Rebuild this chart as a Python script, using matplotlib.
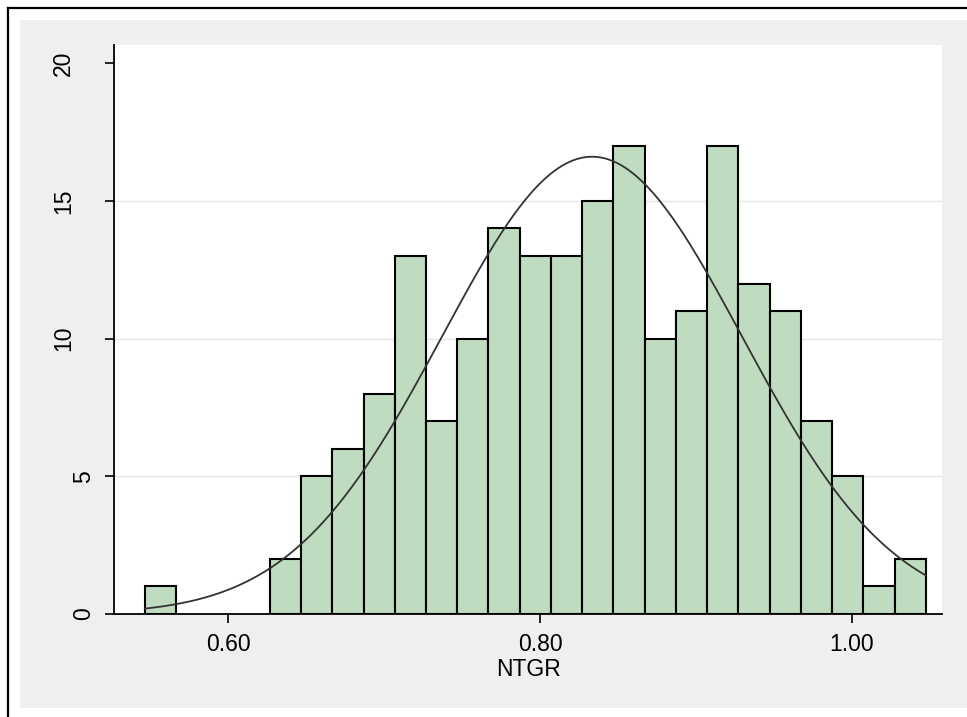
import numpy as np
import matplotlib
matplotlib.use("Agg")
import matplotlib.pyplot as plt
from matplotlib.patches import Rectangle
from matplotlib.lines import Line2D

# ---- data ----
counts = [1, 0, 0, 0, 2, 5, 6, 8, 13, 7, 10, 14, 13, 13, 15, 17, 10, 11, 17, 12, 11, 7, 5, 1, 2]
bin_start = 0.5465
bin_width = 0.02004
curve_mean = 0.8334
curve_sd = 0.0963
xticks = [0.60, 0.80, 1.00]
xtick_labels = ["0.60", "0.80", "1.00"]
yticks = [0, 5, 10, 15, 20]
ytick_labels = ["0", "5", "10", "15", "20"]
xlabel = "NTGR"

plt.rcParams['font.family'] = ['Liberation Sans', 'DejaVu Sans']
FS = 16.5

W, H = 967, 717
fig = plt.figure(figsize=(W / 100, H / 100), dpi=100)
fig.patch.set_facecolor('white')

# gray outer region
bg = Rectangle((20 / W, 1 - 708 / H), (W - 20) / W, (708 - 20) / H,
               transform=fig.transFigure, facecolor='#efefef',
               edgecolor='none', zorder=-10)
fig.add_artist(bg)
# black frame lines (top and left)
fig.add_artist(Line2D([7.5 / W, 1], [1 - 8 / H, 1 - 8 / H], transform=fig.transFigure,
                      color='black', lw=1.6, zorder=-5))
fig.add_artist(Line2D([7.5 / W, 7.5 / W], [0, 1 - 8 / H], transform=fig.transFigure,
                      color='black', lw=1.6, zorder=-5))

left, right, top, bottom = 114, 942, 45, 614
ax = fig.add_axes([left / W, 1 - bottom / H, (right - left) / W, (bottom - top) / H])
ax.set_zorder(1)
ax.set_facecolor('white')

counts = np.array(counts)
n = len(counts)
edges = bin_start + bin_width * np.arange(n)
mask = counts > 0
ax.bar(edges[mask], counts[mask], width=bin_width, align='edge',
       color='#c0dcc0', edgecolor='black', linewidth=1.5, zorder=2)

N = counts.sum()
xs = np.linspace(bin_start, bin_start + bin_width * n, 400)
ys = N * bin_width / (curve_sd * np.sqrt(2 * np.pi)) * np.exp(-0.5 * ((xs - curve_mean) / curve_sd) ** 2)
ax.plot(xs, ys, color='#333333', lw=1.3, zorder=3)

ax.set_xlim(0.5267, 1.0579)
ax.set_ylim(0, 20.66)

for y in [5, 10, 15]:
    ax.axhline(y, color='#e6e6e6', lw=1.0, zorder=1)

for s in ['top', 'right']:
    ax.spines[s].set_visible(False)
for s in ['left', 'bottom']:
    ax.spines[s].set_linewidth(1.3)
    ax.spines[s].set_color('black')
    ax.spines[s].set_zorder(4)

ax.set_xticks(xticks)
ax.set_xticklabels(xtick_labels, fontsize=FS)
ax.set_yticks(yticks)
ax.set_yticklabels(ytick_labels, fontsize=FS, rotation=90, va='center')
ax.tick_params(axis='both', length=6.5, width=1.2, color='black')
ax.tick_params(axis='x', pad=7.5)
for tk, lab in zip(ax.yaxis.get_major_ticks(), ytick_labels):
    tk.set_pad(7 if len(lab) == 1 else 21.5)

ax.set_xlabel(xlabel, fontsize=FS, labelpad=1)

fig.savefig('out.png', dpi=100, facecolor=fig.get_facecolor())
